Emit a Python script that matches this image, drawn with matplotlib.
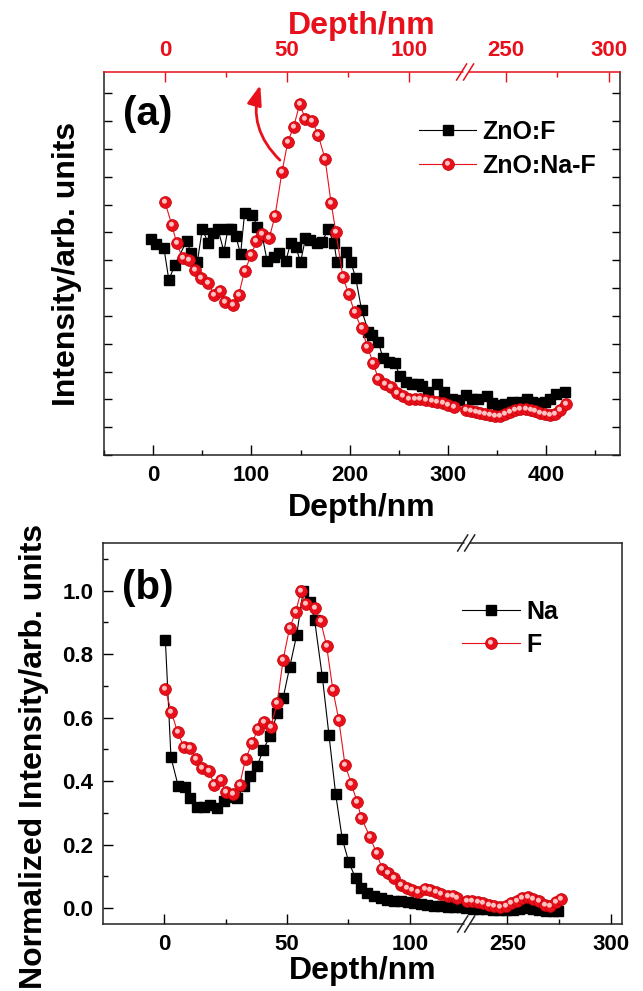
import numpy as np
import matplotlib
matplotlib.use('Agg')
import matplotlib.pyplot as plt
from matplotlib.path import Path
from matplotlib.lines import Line2D
from matplotlib.legend_handler import HandlerTuple
from matplotlib.ticker import FixedLocator, MultipleLocator
from matplotlib.patches import FancyArrowPatch

plt.rcParams['font.family'] = ['Liberation Sans', 'DejaVu Sans']
plt.rcParams['font.weight'] = 'bold'

# (a) depth profiles, depth in nm, intensity in arb. units
znof_x = [-2, 3, 11, 16, 22, 34, 39, 45, 50, 56, 61, 66, 72, 76, 79, 84, 89, 93, 101, 106,
          111, 116, 123, 128, 135, 140, 145, 150, 155, 160, 167, 172, 178, 184, 187, 196, 201, 206,
          212, 219, 223, 229, 234, 240, 246, 251, 257, 263, 269, 274, 280, 289, 296, 304, 311,
          318, 324, 331, 340, 345, 351, 358, 365, 373, 380, 385, 392, 399, 404, 410, 419]
znof_y = [6.75, 6.58, 6.43, 5.29, 5.83, 6.69, 6.25, 5.95, 7.12, 6.63, 6.97, 7.12, 6.31, 7.11,
          7.11, 6.88, 6.22, 7.69, 7.63, 7.21, 6.88, 5.97, 6.13, 6.27, 5.98, 6.63, 6.49, 5.94, 6.79,
          6.73, 6.63, 6.67, 7.11, 6.63, 5.95, 6.31, 5.95, 5.38, 4.23, 3.43, 3.31, 3.07, 2.47, 2.35,
          2.29, 1.85, 1.63, 1.57, 1.55, 1.47, 1.27, 1.57, 1.27, 1.03, 0.97, 1.15, 1.0, 1.03, 1.12,
          0.87, 0.79, 0.85, 0.91, 0.91, 1.03, 0.91, 0.87, 0.91, 1.03, 1.21, 1.27]
znonaf_x = [12, 19, 24, 30, 36, 43, 49, 56, 62, 68, 73, 81, 87, 93, 100, 105, 111, 118, 124,
            131, 137, 143, 149, 155, 162, 168, 175, 181, 186, 193, 199, 205, 212, 218, 224, 229,
            236, 242, 248, 254, 260, 266, 272, 278, 284, 289, 295, 300, 306, 318, 323, 328, 333,
            338, 343, 348, 353, 358, 363, 368, 373, 379, 384, 389, 394, 399, 404, 409, 414, 420]
znonaf_y = [8.1, 7.27, 6.61, 6.07, 6.01, 5.65, 5.35, 5.2, 4.75, 4.9, 4.51, 4.39, 4.75, 5.62,
            6.19, 6.7, 6.94, 6.79, 7.59, 9.16, 10.26, 10.8, 11.61, 11.08, 11.01, 10.5, 9.63, 8.07,
            7.0, 5.41, 4.78, 4.13, 3.55, 2.89, 2.29, 1.75, 1.57, 1.43, 1.23, 1.12, 1.03, 1.0, 1.03,
            0.97, 0.95, 0.91, 0.87, 0.79, 0.73, 0.61, 0.58, 0.55, 0.52, 0.46, 0.43, 0.40, 0.40,
            0.49, 0.55, 0.61, 0.67, 0.67, 0.63, 0.58, 0.52, 0.46, 0.43, 0.49, 0.61, 0.85]

# (b) normalized Na and F profiles
na_x = [0.4, 2.7, 5.6, 8.3, 10.6, 13.3, 16.0, 18.8, 21.5, 24.2, 26.9, 29.7, 32.4, 35.1, 37.8,
        40.3, 43.0, 46.0, 48.4, 51.1, 53.9, 56.6, 59.3, 61.2, 64.4, 67.1, 69.8, 72.5, 75.2, 77.9,
        80.0, 82.7, 85.4, 88.2, 90.9, 93.6, 96.3, 99.1, 101.8, 104.5, 107.2, 110.0, 112.7, 115.4,
        118.1, 120.8, 229.9, 233.2, 236.4, 239.7, 242.9, 246.1, 249.4, 252.6, 255.8, 259.1,
        262.3, 265.5, 268.8, 272.0, 274.4]
na_y = [0.846, 0.475, 0.386, 0.38, 0.347, 0.32, 0.32, 0.326, 0.315, 0.336, 0.349, 0.347, 0.384,
        0.417, 0.447, 0.499, 0.541, 0.613, 0.662, 0.760, 0.859, 1.0, 0.964, 0.909, 0.727, 0.544,
        0.36, 0.218, 0.144, 0.095, 0.063, 0.047, 0.037, 0.032, 0.026, 0.023, 0.021, 0.018, 0.016,
        0.014, 0.011, 0.008, 0.007, 0.005, 0.003, 0.002, 0.0, -0.002, -0.003, -0.003, -0.005,
        -0.005, -0.005, -0.005, -0.003, 0.0, -0.003, -0.007, -0.01, -0.01, -0.01]
f_x = [0.4, 2.9, 5.4, 7.9, 10.3, 13.1, 15.4, 18.1, 20.4, 22.9, 25.3, 28.0, 30.7, 33.1, 35.8,
       38.1, 40.5, 43.3, 46.0, 48.4, 51.0, 53.5, 55.8, 57.6, 61.2, 63.7, 66.1, 68.7, 71.1, 73.6,
       76.2, 78.6, 80.3, 83.8, 86.5, 88.8, 91.1, 93.6, 96.3, 98.8, 101.1, 103.5, 106.1, 108.3,
       110.6, 112.9, 115.4, 117.8, 119.2, 230.2, 232.9, 235.6, 238.0, 240.9, 243.7, 246.5,
       249.4, 251.8, 254.5, 257.1, 259.9, 262.6, 265.2, 268.0, 270.7, 273.6, 276.1]
f_y = [0.689, 0.617, 0.554, 0.508, 0.505, 0.47, 0.442, 0.431, 0.389, 0.403, 0.365, 0.36, 0.389,
       0.47, 0.52, 0.565, 0.586, 0.571, 0.645, 0.783, 0.881, 0.933, 1.0, 0.957, 0.946, 0.904,
       0.827, 0.686, 0.592, 0.452, 0.392, 0.333, 0.284, 0.224, 0.173, 0.123, 0.11, 0.095, 0.073,
       0.063, 0.056, 0.052, 0.06, 0.056, 0.05, 0.045, 0.039, 0.037, 0.032, 0.024, 0.021, 0.018,
       0.015, 0.011, 0.007, 0.003, 0.007, 0.015, 0.024, 0.032, 0.035, 0.029, 0.024, 0.011,
       0.007, 0.018, 0.029]

RED = '#e8101a'
DARK = '#222222'

# broken depth axis: 123 nm jumps to 230 nm
B1, B2, K = 123.0, 230.0, 0.841


def fwd(x):
    x = np.asarray(x, dtype=float)
    return np.where(x <= B1, x, B1 + (np.maximum(x, B2) - B2) * K)


def inv(u):
    u = np.asarray(u, dtype=float)
    return np.where(u <= B1, u, B2 + (u - B1) / K)


BLO, BHI = -25, 305.5
bfrac = (B1 - BLO) / (float(fwd(BHI)) - BLO)

# highlight spot for the "sphere" markers
circ = Path.circle((-0.18, 0.22), 0.42)
shine = Path(np.vstack([[[1, 1], [-1, -1]], circ.vertices]),
             np.concatenate([[Path.MOVETO, Path.MOVETO], circ.codes]))


def balls(ax, x, y, ms):
    ax.plot(x, y, '-', color=RED, lw=0.8, marker='o', ms=ms, mfc=RED, mec='#c00008', mew=0.5, zorder=3)
    ax.plot(x, y, ls='none', marker=shine, ms=ms, mfc='#ffc2c2', mew=0, zorder=4)


def red_handle(ms):
    return (Line2D([], [], color=RED, lw=0.8, marker='o', ms=ms, mfc=RED, mec='#c00008', mew=0.5),
            Line2D([], [], ls='none', marker=shine, ms=ms, mfc='#ffc2c2', mew=0))


fig = plt.figure(figsize=(6.43, 9.91), dpi=100)
W, H = 643.0, 991.0


def brk(ax, yf, color):
    pos = ax.get_position()
    dx = 1.0 / (pos.width * W)
    dy = 1.0 / (pos.height * H)
    ax.plot([bfrac - 2.5 * dx, bfrac + 2.5 * dx], [yf, yf], transform=ax.transAxes,
            color='white', lw=2.5, clip_on=False, zorder=10, solid_capstyle='butt')
    for off in (-3.5, 3.5):
        ax.plot([bfrac + (off - 5) * dx, bfrac + (off + 5) * dx], [yf - 8 * dy, yf + 8 * dy],
                transform=ax.transAxes, color=color, lw=1.1, clip_on=False, zorder=11)


# ---------------- (a)
ax1 = fig.add_axes([104 / W, 1 - 455 / H, 516 / W, (455 - 72) / H])
ax1.plot(znof_x, znof_y, '-', color='k', lw=0.8, marker='s', ms=7, zorder=2)
balls(ax1, znonaf_x, znonaf_y, 8.5)
ax1.set_xlim(-50, 475)
ax1.set_ylim(-1.0, 12.77)
ax1.xaxis.set_major_locator(MultipleLocator(100))
ax1.xaxis.set_minor_locator(MultipleLocator(50))
ax1.yaxis.set_major_locator(MultipleLocator(1))
ax1.tick_params(axis='x', which='both', direction='in', top=False, labelsize=16, width=1, pad=7)
ax1.tick_params(axis='x', which='major', length=7)
ax1.tick_params(axis='x', which='minor', length=3.5)
ax1.tick_params(axis='y', direction='in', left=True, right=True, labelleft=False, length=6, width=1)
for s in ('left', 'right', 'bottom'):
    ax1.spines[s].set_color(DARK)
    ax1.spines[s].set_linewidth(1.1)
ax1.spines['top'].set_visible(False)
ax1.set_xlabel('Depth/nm', fontsize=23, fontweight='bold', labelpad=5)
ax1.set_ylabel('Intensity/arb. units', fontsize=23, fontweight='bold')
ax1.yaxis.set_label_coords(-0.042, 0.5)
ax1.text(0.037, 0.89, '(a)', transform=ax1.transAxes, fontsize=29, fontweight='bold', va='center')
ax1.legend([Line2D([], [], color='k', lw=0.8, marker='s', ms=7), red_handle(8.5)],
           ['ZnO:F', 'ZnO:Na-F'], handler_map={tuple: HandlerTuple(ndivide=1)},
           loc='upper left', bbox_to_anchor=(0.61, 0.875), frameon=False, fontsize=18,
           borderpad=0, borderaxespad=0, handlelength=2.3, handletextpad=0.25, labelspacing=0.4)
ax1.add_patch(FancyArrowPatch((129, 9.6), (109, 12.3), connectionstyle='arc3,rad=-0.3',
                              arrowstyle='-|>,head_length=0.6,head_width=0.22', mutation_scale=20,
                              lw=2, color=RED, shrinkA=0, shrinkB=0, zorder=5))

ax1t = ax1.twiny()
ax1t.set_xscale('function', functions=(fwd, inv))
ax1t.set_xlim(BLO, BHI)
ax1t.xaxis.set_major_locator(FixedLocator([0, 50, 100, 250, 300]))
ax1t.xaxis.set_minor_locator(FixedLocator([25, 75, 275]))
ax1t.tick_params(axis='x', which='both', direction='in', colors=RED, labelsize=16, width=1, pad=8)
ax1t.tick_params(axis='x', which='major', length=7)
ax1t.tick_params(axis='x', which='minor', length=3.5)
for s in ('left', 'right', 'bottom'):
    ax1t.spines[s].set_visible(False)
ax1t.spines['top'].set_color(RED)
ax1t.spines['top'].set_linewidth(1.1)
ax1t.set_xlabel('Depth/nm', fontsize=23, fontweight='bold', color=RED, labelpad=4)
brk(ax1t, 1.0, RED)

# ---------------- (b)
ax2 = fig.add_axes([103 / W, 1 - 924 / H, 519 / W, (924 - 543) / H])
ax2.set_xscale('function', functions=(fwd, inv))
ax2.plot(na_x, na_y, '-', color='k', lw=0.8, marker='s', ms=7, zorder=2)
balls(ax2, f_x, f_y, 8.5)
ax2.set_xlim(BLO, BHI)
ax2.set_ylim(-0.05, 1.15)
ax2.xaxis.set_major_locator(FixedLocator([0, 50, 100, 250, 300]))
ax2.xaxis.set_minor_locator(FixedLocator([25, 75, 275]))
ax2.yaxis.set_major_locator(MultipleLocator(0.2))
ax2.yaxis.set_minor_locator(MultipleLocator(0.1))
ax2.yaxis.set_major_formatter(matplotlib.ticker.FormatStrFormatter('%.1f'))
ax2.tick_params(which='both', direction='in', top=False, right=False, labelsize=16, width=1, pad=7)
ax2.tick_params(which='major', length=7)
ax2.tick_params(which='minor', length=3.5)
for s in ax2.spines.values():
    s.set_color(DARK)
    s.set_linewidth(1.1)
ax2.set_xlabel('Depth/nm', fontsize=23, fontweight='bold', labelpad=1)
ax2.set_ylabel('Normalized Intensity/arb. units', fontsize=23, fontweight='bold')
ax2.yaxis.set_label_coords(-0.105, 0.44)
ax2.text(0.037, 0.882, '(b)', transform=ax2.transAxes, fontsize=29, fontweight='bold', va='center')
ax2.legend([Line2D([], [], color='k', lw=0.8, marker='s', ms=7), red_handle(8.5)],
           ['Na', 'F'], handler_map={tuple: HandlerTuple(ndivide=1)},
           loc='upper left', bbox_to_anchor=(0.692, 0.85), frameon=False, fontsize=18,
           borderpad=0, borderaxespad=0, handlelength=2.3, handletextpad=0.25, labelspacing=0.35)
brk(ax2, 1.0, DARK)
brk(ax2, 0.0, DARK)

fig.savefig('out.png', dpi=100)
